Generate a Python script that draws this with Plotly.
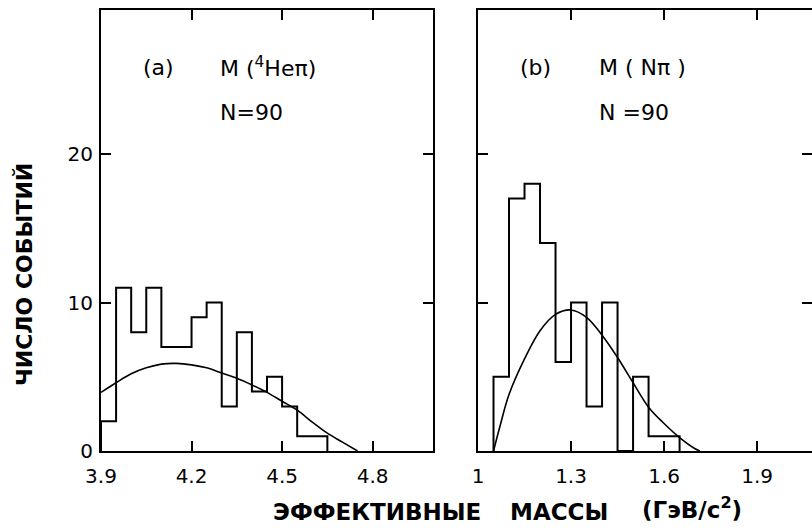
import plotly.graph_objects as go

# ---- data -------------------------------------------------------------
bin_width = 0.05

# (a) effective mass M(4He pi), GeV/c^2
bins_a = [3.90, 3.95, 4.00, 4.05, 4.10, 4.15, 4.20, 4.25,
          4.30, 4.35, 4.40, 4.45, 4.50, 4.55, 4.60]
counts_a = [2, 11, 8, 11, 7, 7, 9, 10, 3, 8, 4, 5, 3, 1, 1]
curve_a_x = [3.90, 3.95, 4.00, 4.05, 4.10, 4.15, 4.20, 4.25, 4.30,
             4.35, 4.40, 4.45, 4.50, 4.55, 4.60, 4.65, 4.70, 4.75]
curve_a_y = [3.95, 4.6, 5.2, 5.6, 5.85, 5.9, 5.8, 5.6, 5.25,
             4.9, 4.45, 3.95, 3.35, 2.75, 1.95, 1.2, 0.6, 0.0]

# (b) effective mass M(N pi), GeV/c^2
bins_b = [1.05, 1.10, 1.15, 1.20, 1.25, 1.30, 1.35, 1.40,
          1.45, 1.50, 1.55, 1.60]
counts_b = [5, 17, 18, 14, 6, 10, 3, 10, 0, 5, 1, 1]
curve_b_x = [1.05, 1.07, 1.10, 1.15, 1.20, 1.25, 1.30, 1.35,
             1.40, 1.45, 1.50, 1.55, 1.60, 1.65, 1.70, 1.715]
curve_b_y = [0.0, 1.6, 3.8, 6.2, 8.1, 9.2, 9.5, 9.0,
             7.8, 6.3, 4.6, 2.95, 1.85, 0.9, 0.15, 0.0]

ticks_a = [3.9, 4.2, 4.5, 4.8]
ticklabels_a = ["3.9", "4.2", "4.5", "4.8"]
ticks_b = [1.0, 1.3, 1.6, 1.9]
ticklabels_b = ["1", "1.3", "1.6", "1.9"]
ticks_y = [0, 10, 20]
ticklabels_y = ["0", "10", "20"]


def outline(lows, counts, width):
    """Closed step outline of a histogram (drops to zero at both ends)."""
    xs, ys = [lows[0]], [0]
    for lo, c in zip(lows, counts):
        xs += [lo, lo + width]
        ys += [c, c]
    xs.append(lows[-1] + width)
    ys.append(0)
    return xs, ys


FONT = "DejaVu Sans"
W, H = 812, 531
L, R, T, B = 101, 0, 10, 80
PW, PH = W - L - R, H - T - B


def px(x):
    return (x - L) / PW


def py(y):
    return (H - B - y) / PH


fig = go.Figure()

hx, hy = outline(bins_a, counts_a, bin_width)
fig.add_trace(go.Scatter(x=hx, y=hy, mode="lines", xaxis="x", yaxis="y",
                         line=dict(color="black", width=2)))
fig.add_trace(go.Scatter(x=curve_a_x, y=curve_a_y, mode="lines", xaxis="x", yaxis="y",
                         line=dict(color="black", width=1.6, shape="spline")))

hx, hy = outline(bins_b, counts_b, bin_width)
fig.add_trace(go.Scatter(x=hx, y=hy, mode="lines", xaxis="x2", yaxis="y2",
                         line=dict(color="black", width=2)))
fig.add_trace(go.Scatter(x=curve_b_x, y=curve_b_y, mode="lines", xaxis="x2", yaxis="y2",
                         line=dict(color="black", width=1.6, shape="spline")))

tickfont = dict(family=FONT, size=20, color="black")
axis_common = dict(showline=True, linewidth=2, linecolor="black", mirror="ticks",
                   ticks="inside", ticklen=10, tickwidth=2, tickcolor="black",
                   showgrid=False, zeroline=False, tickfont=tickfont)

yrange = [0, 29.7]

fig.update_layout(
    width=W, height=H,
    margin=dict(l=L, r=R, t=T, b=B),
    paper_bgcolor="white", plot_bgcolor="white",
    showlegend=False,
    xaxis=dict(domain=[0, px(433)], range=[3.9, 5.0], anchor="y",
               tickvals=ticks_a, ticktext=ticklabels_a,
               ticklabelstandoff=6, **axis_common),
    yaxis=dict(domain=[0, 1], range=yrange, anchor="x",
               tickvals=ticks_y, ticktext=ticklabels_y,
               ticklabelstandoff=2, **axis_common),
    xaxis2=dict(domain=[px(478), 1], range=[1.0, 2.077], anchor="y2",
                tickvals=ticks_b, ticktext=ticklabels_b,
                ticklabelstandoff=6, **axis_common),
    yaxis2=dict(domain=[0, 1], range=yrange, anchor="x2",
                tickvals=ticks_y, showticklabels=False,
                showline=True, linewidth=2, linecolor="black", mirror=False,
                ticks="inside", ticklen=10, tickwidth=2, tickcolor="black",
                showgrid=False, zeroline=False),
    yaxis3=dict(range=yrange, anchor="x2", overlaying="y2", side="right",
                tickvals=ticks_y, showticklabels=False, showline=False,
                ticks="inside", ticklen=10, tickwidth=2, tickcolor="black",
                showgrid=False, zeroline=False),
)

# invisible trace so the right-hand tick axis of panel (b) is drawn
fig.add_trace(go.Scatter(x=[1.0], y=[0], xaxis="x2", yaxis="y3", mode="markers",
                         marker=dict(opacity=0), hoverinfo="skip"))

panel_font = dict(family=FONT, size=22, color="black")
title_font = dict(family=FONT, size=23, color="black")
annots = [
    dict(text="(a)", x=px(158), y=py(67), xanchor="center", font=panel_font),
    dict(text="M (<sup>4</sup>Heπ)", x=px(218), y=py(67), xanchor="left", font=panel_font),
    dict(text="N=90", x=px(218), y=py(112), xanchor="left", font=panel_font),
    dict(text="(b)", x=px(535), y=py(67), xanchor="center", font=panel_font),
    dict(text="M ( Nπ )", x=px(597), y=py(67), xanchor="left", font=panel_font),
    dict(text="N =90", x=px(597), y=py(112), xanchor="left", font=panel_font),
    dict(text="<b>ЭФФЕКТИВНЫЕ</b>", x=px(377), y=py(512), xanchor="center", font=title_font),
    dict(text="<b>МАССЫ</b>", x=px(559), y=py(512), xanchor="center", font=title_font),
    dict(text="<b>(ГэВ/c<sup>2</sup>)</b>", x=px(692), y=py(508), xanchor="center",
         font=title_font),
    dict(text="<b>ЧИСЛО СОБЫТИЙ</b>", x=px(25), y=py(275), xanchor="center",
         textangle=-90, font=dict(family=FONT, size=22, color="black")),
]
for a in annots:
    fig.add_annotation(xref="paper", yref="paper", yanchor="middle",
                       showarrow=False, **a)

fig.write_html("out.html")
